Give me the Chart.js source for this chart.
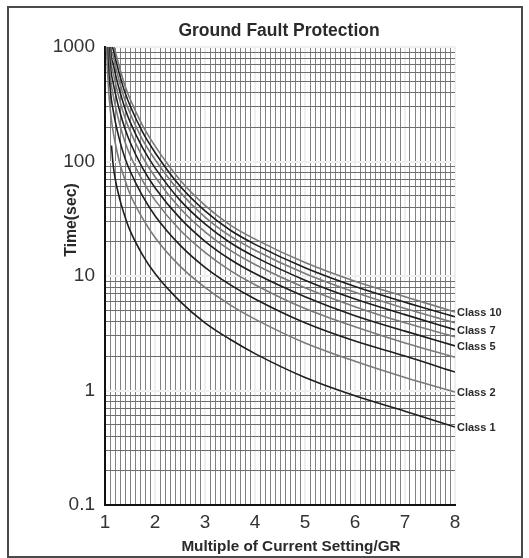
<!DOCTYPE html>
<html>
<head>
<meta charset="utf-8">
<title>Ground Fault Protection</title>
<script src="https://cdn.jsdelivr.net/npm/chart.js@4"></script>
<style>
  html, body { margin: 0; padding: 0; background: #fff; }
  #wrap { position: relative; width: 529px; height: 558px; }
  #frame {
    position: absolute; left: 7px; top: 6px; width: 512px; height: 548px;
    border: 2px solid #4a4a4a; pointer-events: none;
  }
</style>
</head>
<body>
<div id="wrap">
  <canvas id="gfChart" width="529" height="558"></canvas>
  <div id="frame"></div>
</div>
<script>
// multiples of current setting where the curves were read
const multiples = [1.03, 1.05, 1.075, 1.1, 1.13, 1.16, 1.2, 1.3, 1.4, 1.5, 1.75, 2, 2.5, 3, 3.5, 4, 5, 6, 7, 8];

// trip time (sec) per class
const class1  = [null, null, null, null, 138, 96, 72, 46, 33, 25, 15.3, 10.5, 6.0, 3.9, 2.8, 2.1, 1.3, 0.9, 0.66, 0.48];
const class2  = [1030, 614, 404, 300, 228, 186, 148, 95, 69, 52, 32, 21.7, 12.2, 7.95, 5.6, 4.2, 2.6, 1.8, 1.3, 0.97];
const class3  = [1550, 921, 606, 450, 342, 285, 229, 149, 107, 83, 50, 33.6, 18.6, 11.9, 8.4, 6.3, 3.9, 2.7, 2.0, 1.45];
const class4  = [2068, 1228, 808, 600, 456, 388, 315, 207, 148, 114, 68, 46, 25.2, 16.1, 11.2, 8.4, 5.2, 3.6, 2.6, 1.95];
const class5  = [null, 1535, 1010, 750, 570, 495, 406, 269, 193, 148, 88, 59, 32, 20.1, 14, 10.5, 6.6, 4.5, 3.3, 2.45];
const class6  = [null, 1842, 1212, 900, 684, 607, 502, 335, 241, 185, 110, 73.5, 39, 24.3, 16.8, 12.6, 7.9, 5.4, 3.9, 2.95];
const class7  = [null, null, 1414, 1050, 798, 722, 601, 405, 291, 223, 132, 88, 46, 28.5, 19.6, 14.7, 9.2, 6.3, 4.6, 3.4];
const class8  = [null, null, 1616, 1200, 912, 841, 707, 480, 343, 265, 155, 104, 54, 32.7, 22.4, 16.8, 10.5, 7.2, 5.2, 3.9];
const class9  = [null, null, null, 1350, 1026, 965, 816, 557, 400, 308, 181, 120, 61, 37, 25.2, 18.9, 11.8, 8.1, 5.9, 4.4];
const class10 = [null, null, null, 1500, 1140, 1092, 931, 640, 459, 353, 207, 137, 69, 41.4, 28, 21, 13.1, 9.0, 6.6, 4.85];

const classNames = ['Class 1', 'Class 2', 'Class 3', 'Class 4', 'Class 5', 'Class 6', 'Class 7', 'Class 8', 'Class 9', 'Class 10'];
const classSeries = [class1, class2, class3, class4, class5, class6, class7, class8, class9, class10];
const labelledClasses = ['Class 1', 'Class 2', 'Class 5', 'Class 7', 'Class 10'];

const yTickLabels = [0.1, 1, 10, 100, 1000];
const xTickLabels = [1, 2, 3, 4, 5, 6, 7, 8];

const FONT = '"Liberation Sans", Arial, Helvetica, sans-serif';

// gridline positions: 1..9 per decade, and 0.1 steps on x
const yGrid = [];
[0.1, 1, 10, 100].forEach(d => {
    for (let m = 1; m <= 9; m++) yGrid.push(+(m * d).toPrecision(3));
});
yGrid.push(1000);
const xGrid = [];
for (let i = 10; i <= 80; i++) xGrid.push(i / 10);

const datasets = classSeries.map((vals, i) => ({
    label: classNames[i],
    data: multiples.map((m, j) => ({ x: m, y: vals[j] })),
    borderColor: i % 2 === 0 ? '#1e1e1e' : '#7a7a7a',
    borderWidth: 1.6,
    pointRadius: 0,
    fill: false,
    cubicInterpolationMode: 'monotone'
}));

const textPlugin = {
    id: 'texts',
    afterDraw(chart) {
        const ctx = chart.ctx;
        const xs = chart.scales.x, ys = chart.scales.y;
        ctx.save();
        ctx.fillStyle = '#2a2a2a';
        ctx.textAlign = 'center';
        ctx.textBaseline = 'middle';
        ctx.font = 'bold 17.5px ' + FONT;
        ctx.fillText('Ground Fault Protection', 279, 31);
        ctx.font = 'bold 15.3px ' + FONT;
        ctx.fillText('Multiple of Current Setting/GR', 291, 547);
        ctx.save();
        ctx.translate(72, 220);
        ctx.rotate(-Math.PI / 2);
        ctx.font = 'bold 15.8px ' + FONT;
        ctx.fillText('Time(sec)', 0, 0);
        ctx.restore();

        ctx.font = 'bold 11px ' + FONT;
        ctx.textAlign = 'left';
        chart.data.datasets.forEach(ds => {
            if (!labelledClasses.includes(ds.label)) return;
            const last = ds.data[ds.data.length - 1];
            ctx.fillText(ds.label, xs.getPixelForValue(last.x) + 2, ys.getPixelForValue(last.y) + 1);
        });
        ctx.restore();
    }
};

new Chart(document.getElementById('gfChart').getContext('2d'), {
    type: 'line',
    data: { datasets: datasets },
    options: {
        responsive: false,
        animation: false,
        layout: { padding: { top: 47, right: 74, left: 0, bottom: 0 } },
        plugins: { legend: { display: false }, tooltip: { enabled: false }, title: { display: false } },
        scales: {
            x: {
                type: 'linear',
                min: 1,
                max: 8,
                afterBuildTicks: scale => { scale.ticks = xGrid.map(v => ({ value: v })); },
                afterFit: scale => { scale.height = 53; },
                ticks: {
                    autoSkip: false,
                    maxRotation: 0,
                    padding: 6,
                    color: '#333',
                    font: { family: FONT, size: 19 },
                    callback: v => xTickLabels.includes(v) ? String(v) : ''
                },
                grid: {
                    drawTicks: false,
                    color: c => xTickLabels.includes(c.tick && c.tick.value) ? '#efefef' : '#828282',
                    lineWidth: c => xTickLabels.includes(c.tick && c.tick.value) ? 2 : 1
                },
                border: { color: '#111', width: 2 }
            },
            y: {
                type: 'logarithmic',
                min: 0.1,
                max: 1000,
                afterBuildTicks: scale => { scale.ticks = yGrid.map(v => ({ value: v })); },
                afterFit: scale => { scale.width = 105; },
                ticks: {
                    autoSkip: false,
                    padding: 10,
                    color: '#333',
                    font: { family: FONT, size: 19 },
                    callback: v => yTickLabels.includes(v) ? String(v) : ''
                },
                grid: {
                    drawTicks: false,
                    color: c => yTickLabels.includes(c.tick && c.tick.value) ? '#efefef' : '#6e6e6e',
                    lineWidth: c => yTickLabels.includes(c.tick && c.tick.value) ? 2 : 1
                },
                border: { color: '#111', width: 2 }
            }
        }
    },
    plugins: [textPlugin]
});
</script>
</body>
</html>
